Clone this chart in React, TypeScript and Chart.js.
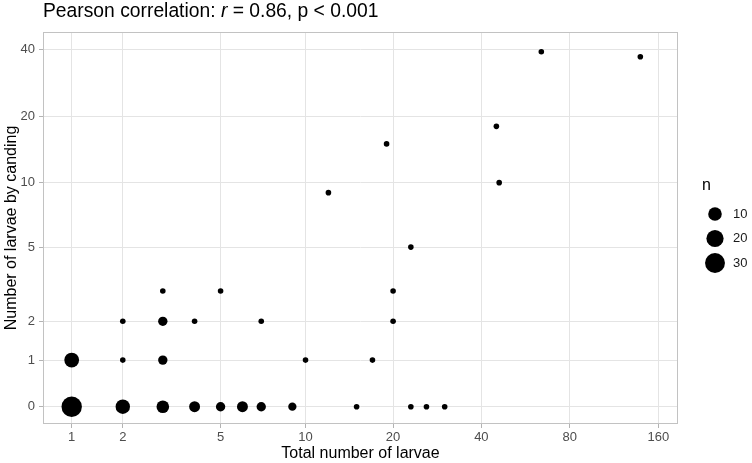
import React, { useEffect, useRef } from 'react';
import { Chart, registerables, LinearScale } from 'chart.js';

// ---- Data ----
const totalLarvae = [1, 2, 3, 4, 5, 6, 7, 9, 15, 23, 26, 30, 1, 2, 3, 10, 17, 2, 3, 4, 7, 20, 3, 5, 20, 23, 12, 46, 19, 45, 64, 139];
const candledLarvae = [0, 0, 0, 0, 0, 0, 0, 0, 0, 0, 0, 0, 1, 1, 1, 1, 1, 2, 2, 2, 2, 2, 3, 3, 3, 5, 9, 10, 15, 18, 39, 37];
const counts = [32, 12, 8, 5, 3, 5, 3, 2, 1, 1, 1, 1, 13, 1, 3, 1, 1, 1, 3, 1, 1, 1, 1, 1, 1, 1, 1, 1, 1, 1, 1, 1];

const xTickValues = [1, 2, 5, 10, 20, 40, 80, 160];
const yTickValues = [0, 1, 2, 5, 10, 20, 40];
const legendCounts = [10, 20, 30];
const xLimits = [0.5186, 186.7];
const yLimits = [-0.359, 47.8];

const titleBefore = 'Pearson correlation: ';
const titleItalic = 'r';
const titleAfter = ' = 0.86, p < 0.001';
const xTitle = 'Total number of larvae';
const yTitle = 'Number of larvae by canding';
const legendTitle = 'n';

const FONT = "'Liberation Sans', Arial, Helvetica, sans-serif";

// pseudo-log transform (asinh(x/2)), as in scales::pseudo_log_trans
const tf = (v: number) => Math.asinh(v / 2);
const tinv = (t: number) => 2 * Math.sinh(t);

class PseudoLogScale extends LinearScale {
  static id = 'pseudolog';
  _tMin = 0;
  _tMax = 1;
  configure() {
    super.configure();
    this._tMin = tf(this.min);
    this._tMax = tf(this.max);
  }
  buildTicks() {
    return [];
  }
  getPixelForValue(value: number) {
    return this.getPixelForDecimal((tf(value) - this._tMin) / (this._tMax - this._tMin));
  }
  getValueForPixel(pixel: number) {
    const d = this.getDecimalForPixel(pixel);
    return tinv(this._tMin + d * (this._tMax - this._tMin));
  }
}

Chart.register(...registerables, PseudoLogScale);

const nMin = Math.min(...counts);
const nMax = Math.max(...counts);
const radiusFor = (n: number) => 2.8 + 7.4 * Math.sqrt(Math.max(0, (n - nMin) / (nMax - nMin)));

const decorPlugin = {
  id: 'decor',
  afterDatasetsDraw(chart: any) {
    const { ctx, chartArea } = chart;
    ctx.save();
    ctx.strokeStyle = '#c2c2c2';
    ctx.lineWidth = 1;
    ctx.strokeRect(chartArea.left + 0.5, chartArea.top + 0.5, chartArea.right - chartArea.left - 1, chartArea.bottom - chartArea.top - 1);
    ctx.restore();
  },
  afterDraw(chart: any) {
    const { ctx } = chart;
    ctx.save();
    // Title with italic r
    ctx.fillStyle = '#000';
    ctx.textBaseline = 'alphabetic';
    ctx.textAlign = 'left';
    let x = 43;
    const y = 17;
    ctx.font = `19.3px ${FONT}`;
    ctx.fillText(titleBefore, x, y);
    x += ctx.measureText(titleBefore).width;
    ctx.font = `italic 19.3px ${FONT}`;
    ctx.fillText(titleItalic, x, y);
    x += ctx.measureText(titleItalic).width;
    ctx.font = `19.3px ${FONT}`;
    ctx.fillText(titleAfter, x, y);

    // Size legend
    ctx.textBaseline = 'middle';
    ctx.font = `16px ${FONT}`;
    ctx.fillText(legendTitle, 702, 186);
    ctx.font = `13px ${FONT}`;
    legendCounts.forEach((n, i) => {
      const cy = 214 + i * 24.5;
      ctx.beginPath();
      ctx.arc(715, cy, radiusFor(n), 0, Math.PI * 2);
      ctx.fillStyle = '#000';
      ctx.fill();
      ctx.fillStyle = '#1a1a1a';
      ctx.fillText(String(n), 733, cy);
    });
    ctx.restore();
  },
};

export default function App() {
  const ref = useRef<HTMLCanvasElement | null>(null);
  useEffect(() => {
    if (!ref.current) return;
    const points = totalLarvae.map((x, i) => ({ x, y: candledLarvae[i], n: counts[i] }));
    const gridColor = '#e4e4e4';
    const tickColor = '#b3b3b3';
    const chart = new Chart(ref.current, {
      type: 'scatter',
      data: {
        datasets: [
          {
            data: points,
            backgroundColor: '#000',
            borderWidth: 0,
            pointRadius: (c: any) => radiusFor(c.raw ? c.raw.n : 1),
            pointHoverRadius: (c: any) => radiusFor(c.raw ? c.raw.n : 1),
          } as any,
        ],
      },
      options: {
        responsive: false,
        animation: false,
        devicePixelRatio: 1,
        events: [],
        layout: { padding: { left: 0, top: 32, right: 74, bottom: 0 } },
        plugins: { legend: { display: false }, tooltip: { enabled: false }, title: { display: false } },
        scales: {
          x: {
            type: 'pseudolog' as any,
            min: xLimits[0],
            max: xLimits[1],
            afterBuildTicks: (s: any) => {
              s.ticks = xTickValues.map((v) => ({ value: v }));
            },
            afterFit: (s: any) => {
              s.height = 39;
            },
            grid: { color: gridColor, lineWidth: 1, tickLength: 4, tickColor, tickWidth: 1 },
            border: { display: false },
            ticks: {
              autoSkip: false,
              maxRotation: 0,
              padding: 2,
              color: '#4d4d4d',
              font: { size: 13, family: FONT },
              callback: (v: any) => String(v),
            },
            title: { display: true, text: xTitle, color: '#000', font: { size: 16, family: FONT }, padding: { top: 0, bottom: 0 } },
          } as any,
          y: {
            type: 'pseudolog' as any,
            min: yLimits[0],
            max: yLimits[1],
            afterBuildTicks: (s: any) => {
              s.ticks = yTickValues.map((v) => ({ value: v }));
            },
            afterFit: (s: any) => {
              s.width = 43;
            },
            grid: { color: gridColor, lineWidth: 1, tickLength: 4, tickColor, tickWidth: 1 },
            border: { display: false },
            ticks: {
              autoSkip: false,
              padding: 4,
              color: '#4d4d4d',
              font: { size: 13, family: FONT },
              callback: (v: any) => String(v),
            },
            title: { display: true, text: yTitle, color: '#000', font: { size: 16, family: FONT }, padding: { top: 2, bottom: 0 } },
          } as any,
        },
      },
      plugins: [decorPlugin],
    });
    return () => chart.destroy();
  }, []);
  return (
    <div style={{ position: 'absolute', left: 0, top: 0, width: 752, height: 463, background: '#fff' }}>
      <canvas ref={ref} width={752} height={463} />
    </div>
  );
}
